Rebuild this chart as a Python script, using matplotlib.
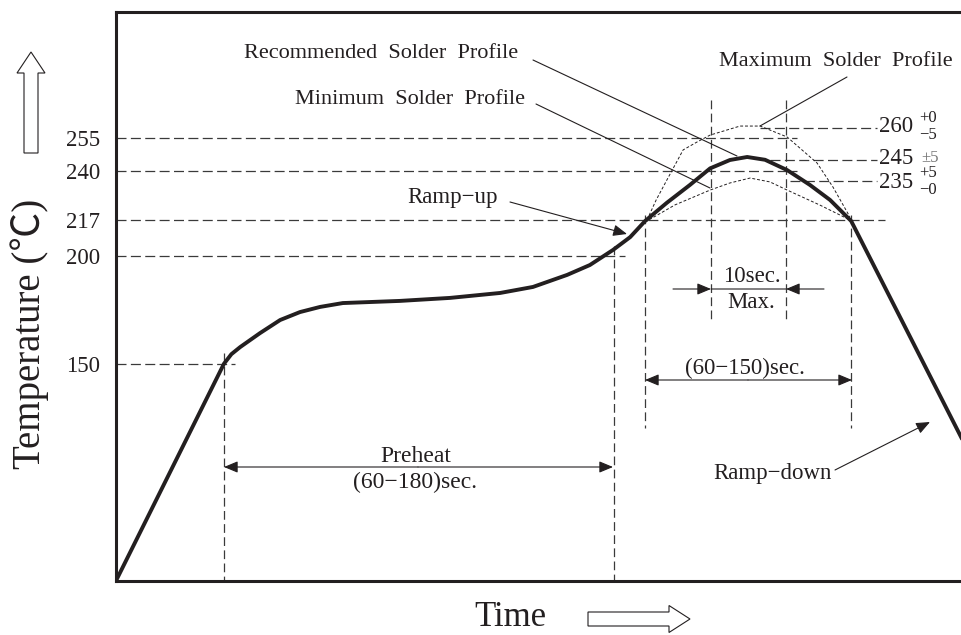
import matplotlib
matplotlib.use("Agg")
import matplotlib.pyplot as plt
from matplotlib.transforms import Affine2D
from matplotlib.patches import FancyArrow

# ---------------- data ----------------
# recommended profile (time in s, temperature in degC)
profile_time = [0, 33.2, 35.5, 38.2, 44.3, 50.5, 56.6, 62.8, 69.8, 87.4, 102.8, 118.2,
                128.3, 138.8, 145.8, 152.9, 158.2, 162.8, 169.5, 176.6, 182.8,
                188.9, 194.2, 199.7, 206.5, 213.5, 219.7, 226.2, 262.0]
profile_temp = [49, 150, 154.5, 157.8, 164.3, 170.4, 174.1, 176.5, 178.3, 179.3, 180.7, 183.0,
                185.8, 191.4, 196.0, 203.0, 209.0, 216.5, 225.0, 233.3, 241.0,
                244.9, 246.3, 245.0, 240.2, 233.3, 226.3, 216.5, 110.0]
# maximum profile
max_time = [163.4, 166.2, 169.5, 174.5, 178.8, 182.8, 192.0, 198.2, 206.5, 215.7, 220.6, 225.8]
max_temp = [217.0, 226.3, 235.6, 249.6, 253.3, 256.5, 260.7, 260.7, 255.6, 243.5, 232.3, 218.4]
# minimum profile
min_time = [162.8, 172.0, 182.8, 188.9, 195.1, 201.2, 206.5, 216.6, 225.8]
min_temp = [216.0, 224.0, 230.9, 234.2, 236.5, 234.7, 230.9, 223.9, 217.0]

tick_temps = [150, 200, 217, 240, 255]
tick_labels = ["150", "200", "217", "240", "255"]
hline_end = [36.6, 156.6, 236.6, 209.5, 209.5]

peak_temps = [260, 245, 235]
peak_labels = ["260", "245", "235"]
peak_line_start = [198.2, 201.2, 207.4]
peak_line_end = 234.2
peak_sup = ["+0", "", "+5"]
peak_sub = ["−5", "", "−0"]
peak_mid = ["", "±5", ""]

# vertical reference lines: time, top temp, bottom temp
vline_time = [33.2, 153.2, 162.8, 226.2, 183.1, 206.3]
vline_top = [155.0, 205.0, 219.5, 219.5, 272.8, 272.8]
vline_bot = [48.9, 48.9, 120.1, 120.1, 170.5, 170.5]

INK = "#231f20"
DASH = "#3a3a3a"
SERIF = "Liberation Serif"

W, H = 962, 635
fig = plt.figure(figsize=(W / 100, H / 100), dpi=100)
ax = fig.add_axes([116 / W, (H - 581) / H, (W - 116) / W, (581 - 12) / H])
ax.set_xlim(0, 260.3)
ax.set_ylim(48.9, 313.8)
px = Affine2D().scale(1 / W, -1 / H).translate(0, 1) + fig.transFigure

for s in ["left", "top", "bottom"]:
    ax.spines[s].set_linewidth(2.2)
    ax.spines[s].set_color(INK)
ax.spines["right"].set_visible(False)
ax.set_xticks([])
ax.set_yticks(tick_temps)
ax.set_yticklabels(tick_labels, fontsize=16.5, family=SERIF, color=INK)
ax.tick_params(axis="y", length=0, pad=11.5)

dash_h = dict(color=DASH, lw=0.9, linestyle=(0, (8, 3.5)))
dash_v = dict(color=DASH, lw=0.9, linestyle=(0, (7, 3.5)))
for T, te in zip(tick_temps, hline_end):
    ax.plot([0, te], [T, T], **dash_h)
for T, ts in zip(peak_temps, peak_line_start):
    ax.plot([ts, peak_line_end], [T, T], **dash_h)
for t, a, b in zip(vline_time, vline_top, vline_bot):
    ax.plot([t, t], [a, b], **dash_v)

ax.plot(max_time, max_temp, color=INK, lw=0.7, linestyle=(0, (3, 2)))
ax.plot(min_time, min_temp, color=INK, lw=0.7, linestyle=(0, (3, 2)))
ax.plot(profile_time, profile_temp, color=INK, lw=2.8, solid_joinstyle="round",
        solid_capstyle="round")


def txt(x, y, s, size=16, ha="center", va="center", **kw):
    fig.text(x, y, s, transform=px, fontsize=size, ha=ha, va=va,
             family=kw.pop("family", SERIF), color=kw.pop("color", INK), **kw)


def arrow(tail, tip, style="-|>"):
    ax.annotate("", xy=tip, xytext=tail, xycoords=px, textcoords=px,
                arrowprops=dict(arrowstyle=style + ",head_length=0.6,head_width=0.25",
                                color=INK, lw=0.8, mutation_scale=14,
                                shrinkA=0, shrinkB=0))


def line(p, q):
    ax.annotate("", xy=q, xytext=p, xycoords=px, textcoords=px,
                arrowprops=dict(arrowstyle="-", color=INK, lw=0.8,
                                shrinkA=0, shrinkB=0))


# labels with leader lines
txt(518, 53, "Recommended  Solder  Profile", ha="right")
line((533, 60), (737, 156))
txt(525, 100, "Minimum  Solder  Profile", ha="right")
line((536, 104), (710, 188))
txt(953, 61, "Maximum  Solder  Profile", ha="right")
line((847, 77), (760, 126))

txt(453, 197, "Ramp−up", size=16.5)
arrow((510, 202), (627, 234))
txt(832, 473, "Ramp−down", size=16.5, ha="right")
arrow((835, 470), (930, 422))

# 10 sec max
txt(752, 277, "10sec.", size=16.5)
txt(751, 302, "Max.", size=16.5)
arrow((673, 289), (711, 289))
arrow((824, 289), (786, 289))
line((711, 289), (786, 289))

# reflow window
txt(745, 368, "(60−150)sec.", size=16.5)
arrow((748, 380), (645, 380))
arrow((748, 380), (852, 380))

# preheat
txt(416, 456, "Preheat", size=17)
txt(415, 482, "(60−180)sec.", size=17)
arrow((418, 467), (224, 467))
arrow((418, 467), (613, 467))

# peak labels
for T, lab, sup, sub, mid in zip(peak_temps, peak_labels, peak_sup, peak_sub, peak_mid):
    yy = {260: 127, 245: 158, 235: 182}[T]
    txt(879, yy, lab, size=16.5, ha="left")
    if sup:
        txt(919, yy - 9, sup, size=12, ha="left")
        txt(919, yy + 8, sub, size=12, ha="left")
    if mid:
        txt(921, yy, mid, size=12, ha="left", color="#777777")

# axis titles
txt(474, 618, "Time", size=25, ha="left")
fig.text(30, 199, "Temperature (℃)", transform=px, fontsize=28, rotation=90,
         ha="center", va="top", family=[SERIF, "Noto Sans CJK SC"], color=INK)

# hollow direction arrows
fig.add_artist(FancyArrow(31, 153, 0, -101, width=14, head_width=28, head_length=21,
                          length_includes_head=True, transform=px, facecolor="white",
                          edgecolor=INK, lw=0.8))
fig.add_artist(FancyArrow(588, 619, 102, 0, width=14, head_width=27, head_length=21,
                          length_includes_head=True, transform=px, facecolor="white",
                          edgecolor=INK, lw=0.8))

fig.savefig("out.png", dpi=100)
